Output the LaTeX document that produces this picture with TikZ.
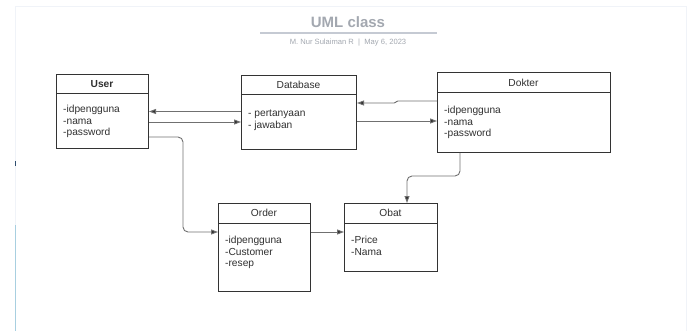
\documentclass[tikz,border=0pt]{standalone}
\usepackage{fontspec}
\setmainfont{Liberation Sans}
\usetikzlibrary{arrows.meta,calc}
\definecolor{boxc}{HTML}{333333}
\definecolor{connc}{HTML}{707070}
\definecolor{titlec}{HTML}{A3A8B0}
\definecolor{rulec}{HTML}{C5CAD3}
\definecolor{framec}{HTML}{F0F3F8}
\definecolor{bluec}{HTML}{A8CFE0}
\definecolor{markc}{HTML}{2E4E6E}
\definecolor{textc}{HTML}{303030}
\tikzset{
  umlbox/.style={draw=boxc, line width=1pt, inner sep=0pt, anchor=north west, fill=white},
  hdr/.style={text=textc, inner sep=0pt, font=\fontsize{10.2}{12}\selectfont},
  bodytext/.style={text=textc, inner sep=0pt, anchor=north west, align=left, font=\fontsize{10.2}{11.7}\selectfont},
  sepline/.style={draw=boxc, line width=1pt},
  conn/.style={draw=connc, line width=0.9pt, rounded corners=5pt, -{Triangle[length=7pt,width=5pt,fill=boxc]}},
}
\begin{document}
\begin{tikzpicture}[x=1pt,y=-1pt]
\useasboundingbox (0,0) rectangle (690,331);
% page frame and left marks
\draw[framec, line width=1pt] (15,331) -- (15,7) -- (686,7) -- (686,331);
\draw[bluec, line width=1.6pt] (15.5,225) -- (15.5,331);
\draw[markc, line width=1.4pt] (15.5,161) -- (15.5,166);
% title
\node[text=titlec, font=\bfseries\fontsize{15}{18}\selectfont] (title) at (348,22) {UML class};
\draw[rulec, line width=1.3pt] (260,33) -- (437,33);
\node[text=titlec, font=\fontsize{7.6}{9}\selectfont] (subtitle) at (348,43) {M. Nur Sulaiman R \ | \ May 6, 2023};

% User
\node[umlbox, minimum width=92pt, minimum height=74pt] (user) at (56,74) {};
\draw[sepline] (user.west |- 0,94) -- (user.east |- 0,94);
\node[hdr, font=\bfseries\fontsize{10.2}{12}\selectfont] (userh) at (102,84) {User};
\node[bodytext] (usert) at (63,105) {-idpengguna\\-nama\\-password};

% Database
\node[umlbox, minimum width=115pt, minimum height=74pt] (db) at (241,75) {};
\draw[sepline] (db.west |- 0,95) -- (db.east |- 0,95);
\node[hdr] (dbh) at (298.5,85) {Database};
\node[bodytext] (dbt) at (248,110) {- pertanyaan\\- jawaban};

% Dokter
\node[umlbox, minimum width=173pt, minimum height=80pt] (dok) at (437,72) {};
\draw[sepline] (dok.west |- 0,93) -- (dok.east |- 0,93);
\node[hdr] (dokh) at (523.5,82.5) {Dokter};
\node[bodytext] (dokt) at (444,106) {-idpengguna\\-nama\\-password};

% Order
\node[umlbox, minimum width=92pt, minimum height=88pt] (order) at (218,203) {};
\draw[sepline] (order.west |- 0,223) -- (order.east |- 0,223);
\node[hdr] (orderh) at (264,213) {Order};
\node[bodytext] (ordert) at (225,236) {-idpengguna\\-Customer\\-resep};

% Obat
\node[umlbox, minimum width=93pt, minimum height=68pt] (obat) at (344,203) {};
\draw[sepline] (obat.west |- 0,223) -- (obat.east |- 0,223);
\node[hdr] (obath) at (390.5,213) {Obat};
\node[bodytext] (obatt) at (351,236) {-Price\\-Nama};

% connectors
\draw[conn] (db.west |- 0,111.5) -- (user.east |- 0,111.5);
\draw[conn] (user.east |- 0,122) -- (db.west |- 0,122);
\draw[conn, rounded corners=1pt] (dok.west |- 0,101) -- (397,101) -- (395,103) -- (db.east |- 0,103);
\draw[conn] (db.east |- 0,121) -- (dok.west |- 0,121);
\draw[conn] (user.east |- 0,137) -- (183,137) -- (183,232) -- (order.west |- 0,232);
\draw[conn] (order.east |- 0,232) -- (obat.west |- 0,232);
\draw[conn] (dok.south -| 460,0) -- (460,176) -- (407,176) -- (obat.north -| 407,0);
\end{tikzpicture}
\end{document}
